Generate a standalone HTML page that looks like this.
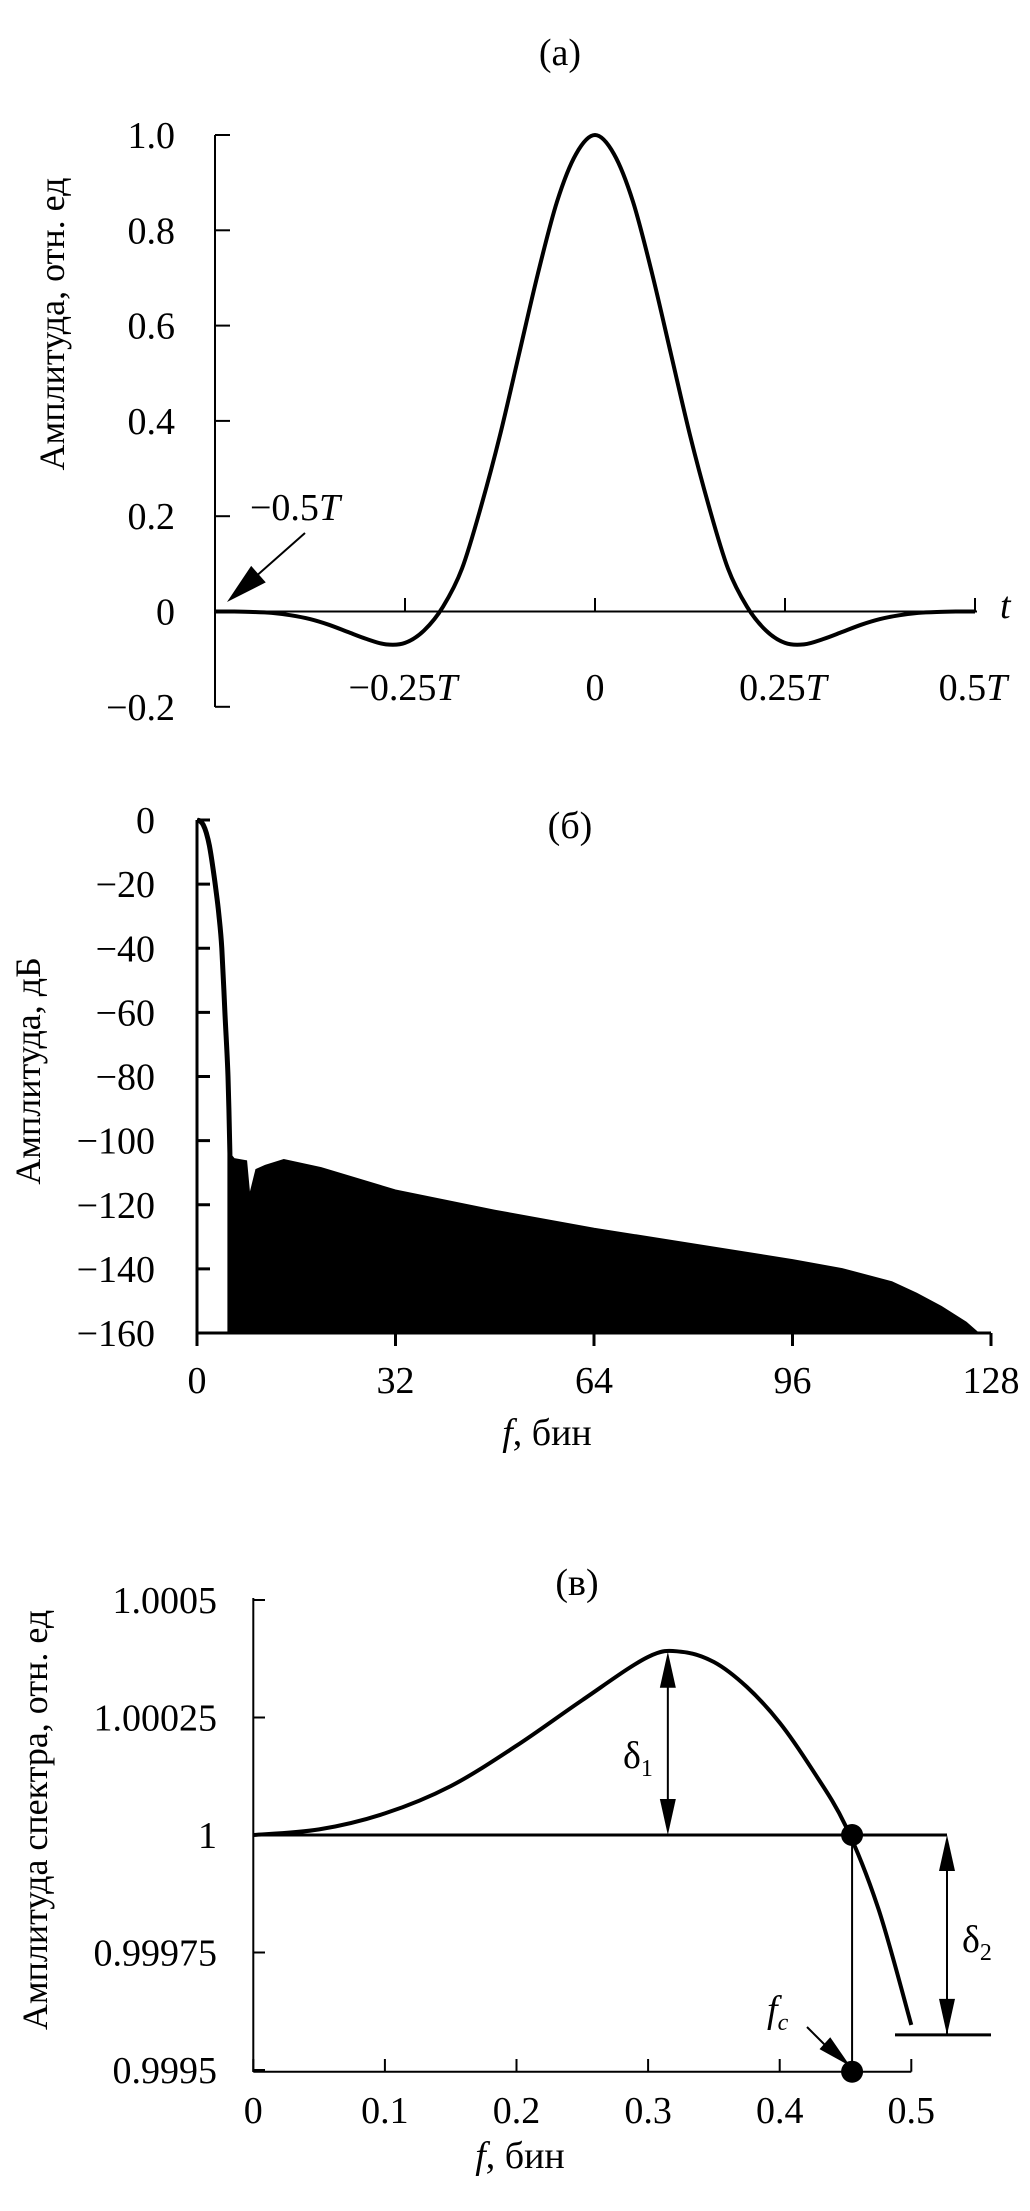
<!DOCTYPE html>
<html><head><meta charset="utf-8"><style>
html,body{margin:0;padding:0;background:#fff;}
svg{display:block;}
text{font-family:"Liberation Serif","DejaVu Serif",serif;fill:#000;}
</style></head><body>
<svg id="fig" width="1030" height="2211" viewBox="0 0 1030 2211" xmlns="http://www.w3.org/2000/svg">
<rect width="1030" height="2211" fill="#fff"/>
<!-- ===== Panel (a) ===== -->
<g id="pa" font-size="38">
  <text x="560" y="65" text-anchor="middle">(а)</text>
  <text transform="translate(64,324) rotate(-90)" text-anchor="middle" font-size="36">Амплитуда, отн. ед</text>
  <line x1="215" y1="135" x2="215" y2="707" stroke="#000" stroke-width="2"/>
  <line x1="215" y1="611.5" x2="977" y2="611.5" stroke="#000" stroke-width="2"/>
  <g id="pa-yt"></g>
  <g id="pa-xt"></g>
  <text x="1000" y="618" font-style="italic">t</text>
  <text x="250" y="520">−0.5<tspan font-style="italic">T</tspan></text>
  <g id="pa-arrow"></g>
  <path id="pa-curve" fill="none" stroke="#000" stroke-width="4"/>
</g>
<!-- ===== Panel (б) ===== -->
<g id="pb" font-size="38">
  <text x="570" y="838" text-anchor="middle">(б)</text>
  <text transform="translate(40,1071) rotate(-90)" text-anchor="middle" font-size="36">Амплитуда, дБ</text>
  <text x="547" y="1445" text-anchor="middle"><tspan font-style="italic">f</tspan>, бин</text>
  <path id="pb-fill" fill="#000" stroke="#000" stroke-width="1"/>
  <path id="pb-main" fill="none" stroke="#000" stroke-width="5"/>
  <line x1="197" y1="820" x2="197" y2="1333" stroke="#000" stroke-width="3"/>
  <line x1="197" y1="1333" x2="991" y2="1333" stroke="#000" stroke-width="3"/>
  <g id="pb-yt"></g>
  <g id="pb-xt"></g>
</g>
<!-- ===== Panel (в) ===== -->
<g id="pc" font-size="38">
  <text x="577" y="1595" text-anchor="middle">(в)</text>
  <text transform="translate(47,1820) rotate(-90)" text-anchor="middle" font-size="36">Амплитуда спектра, отн. ед</text>
  <text x="520" y="2168" text-anchor="middle"><tspan font-style="italic">f</tspan>, бин</text>
  <line x1="253.3" y1="1598" x2="253.3" y2="2072" stroke="#000" stroke-width="2"/>
  <line x1="253.3" y1="2071.7" x2="911.3" y2="2071.7" stroke="#000" stroke-width="2"/>
  <g id="pc-yt"></g>
  <g id="pc-xt"></g>
  <g id="pc-ann"></g>
  <path id="pc-curve" fill="none" stroke="#000" stroke-width="4"/>
  <text x="623" y="1768">δ<tspan font-size="24" dy="8">1</tspan></text>
  <text x="962" y="1952">δ<tspan font-size="24" dy="8">2</tspan></text>
  <text x="767" y="2022" font-style="italic">f<tspan font-size="24" dy="8">c</tspan></text>
</g>
</svg>
<script>
// ---- Panel (a) data ----
const aT = [-0.5,-0.475,-0.45,-0.425,-0.4,-0.375,-0.35,-0.325,-0.3,-0.275,-0.25,-0.225,-0.2,-0.175,-0.15,-0.125,-0.1,-0.075,-0.05,-0.025,0,0.025,0.05,0.075,0.1,0.125,0.15,0.175,0.2,0.225,0.25,0.275,0.3,0.325,0.35,0.375,0.4,0.425,0.45,0.475,0.5];
const aAmp = [0,0,-0.001,-0.003,-0.008,-0.016,-0.028,-0.043,-0.058,-0.069,-0.066,-0.04,0.01,0.09,0.22,0.37,0.54,0.71,0.86,0.96,1.0,0.96,0.86,0.71,0.54,0.37,0.22,0.09,0.01,-0.04,-0.066,-0.069,-0.058,-0.043,-0.028,-0.016,-0.008,-0.003,-0.001,0,0];
const aYTicks = [1.0,0.8,0.6,0.4,0.2,0,-0.2];
const aYTickLabels = ["1.0","0.8","0.6","0.4","0.2","0","−0.2"];
const aXTicks = [-0.25,0,0.25,0.5];
const aXTickLabels = ["−0.25","0","0.25","0.5"];
// ---- Panel (б) data ----
const bMainBins = [0,0.5,1,1.5,2,2.5,3,3.5,4,4.5,5,5.3];
const bMainDb = [0,-0.3,-1.5,-4,-8,-14,-21,-29,-40,-60,-80,-104];
const bEnvBins = [5.3,6,8,8.5,9.5,11,14,20,32,48,64,80,96,104,112,116,120,124,126];
const bEnvDb = [-104,-105.6,-106.3,-116.8,-109,-107.7,-105.9,-108.4,-115.4,-121.7,-127.3,-132.2,-137.1,-139.9,-144,-147.6,-151.7,-156.6,-160];
const bYTicks = [0,-20,-40,-60,-80,-100,-120,-140,-160];
const bYTickLabels = ["0","−20","−40","−60","−80","−100","−120","−140","−160"];
const bXTicks = [0,32,64,96,128];
const bXTickLabels = ["0","32","64","96","128"];
// ---- Panel (в) data ----
const cF = [0,0.05,0.1,0.15,0.2,0.25,0.3,0.325,0.35,0.375,0.4,0.425,0.45,0.475,0.5];
const cDev = [0,0.000012,0.000046,0.000104,0.00019,0.000287,0.000379,0.00039,0.000368,0.000315,0.000239,0.000138,0.00002,-0.000157,-0.000404];
const cYTicks = [1.0005,1.00025,1,0.99975,0.9995];
const cYTickLabels = ["1.0005","1.00025","1","0.99975","0.9995"];
const cXTicks = [0,0.1,0.2,0.3,0.4,0.5];
const cXTickLabels = ["0","0.1","0.2","0.3","0.4","0.5"];
const cFc = 0.455;
const cPeakF = 0.315;

const NS = "http://www.w3.org/2000/svg";
// axis functions
const axA = t => 595 + t*760;
const ayA = v => 611.5 - v*476.5;
const axB = b => 197 + b*(794/128);
const ayB = d => 820 - d*(513/160);
const axC = f => 253.3 + f*1316;
const ayC = v => 1835 - (v-1)*470000;

function mk(tag, attrs, parent){
  const el = document.createElementNS(NS, tag);
  for (const k in attrs) el.setAttribute(k, attrs[k]);
  parent.appendChild(el);
  return el;
}
function smooth(pts){
  let d = "M"+pts[0][0].toFixed(1)+","+pts[0][1].toFixed(1);
  for (let i=0;i<pts.length-1;i++){
    const p0=pts[Math.max(0,i-1)], p1=pts[i], p2=pts[i+1], p3=pts[Math.min(pts.length-1,i+2)];
    const c1=[p1[0]+(p2[0]-p0[0])/6, p1[1]+(p2[1]-p0[1])/6];
    const c2=[p2[0]-(p3[0]-p1[0])/6, p2[1]-(p3[1]-p1[1])/6];
    d+=" C"+c1[0].toFixed(1)+","+c1[1].toFixed(1)+" "+c2[0].toFixed(1)+","+c2[1].toFixed(1)+" "+p2[0].toFixed(1)+","+p2[1].toFixed(1);
  }
  return d;
}
function head(parent, x1,y1,x2,y2,len,hw){
  const dx=x2-x1, dy=y2-y1, L=Math.hypot(dx,dy), ux=dx/L, uy=dy/L;
  const bx=x2-ux*len, by=y2-uy*len;
  const p = mk("polygon",{points:`${x2},${y2} ${bx-uy*hw},${by+ux*hw} ${bx+uy*hw},${by-ux*hw}`, fill:"#000"}, parent);
  return p;
}

// ---- Panel (a) ----
(function(){
  const yt = document.getElementById("pa-yt");
  aYTicks.forEach((v,i)=>{
    const ln = mk("line",{x1:215,y1:ayA(v),x2:230,y2:ayA(v),stroke:"#000","stroke-width":2},yt);
    
    
    const tx = mk("text",{x:175,y:ayA(v)+13,"text-anchor":"end"},yt);
    tx.textContent = aYTickLabels[i];
    
    
  });
  const xt = document.getElementById("pa-xt");
  aXTicks.forEach((t,i)=>{
    const ln = mk("line",{x1:axA(t),y1:611.5,x2:axA(t),y2:598,stroke:"#000","stroke-width":2},xt);
    
    
    const tx = mk("text",{x:axA(t)-(t===0?0:2),y:700,"text-anchor":"middle"},xt);
    tx.textContent = aXTickLabels[i];
    if (t!==0){ const ts = mk("tspan",{"font-style":"italic"},tx); ts.textContent="T"; }
    
    
  });
  const pts = aT.map((t,i)=>[axA(t), ayA(aAmp[i])]);
  document.getElementById("pa-curve").setAttribute("d", smooth(pts));
  const ag = document.getElementById("pa-arrow");
  const l = mk("line",{x1:305,y1:533,x2:245,y2:586,stroke:"#000","stroke-width":2},ag);
  
  
  const h = head(ag,305,533,227,602,42,11);
  
  
})();

// ---- Panel (б) ----
(function(){
  let d = "M"+axB(bEnvBins[0]).toFixed(1)+","+ayB(-160).toFixed(1);
  bEnvBins.forEach((b,i)=>{ d += " L"+axB(b).toFixed(1)+","+ayB(bEnvDb[i]).toFixed(1); });
  d += " L"+axB(bEnvBins[bEnvBins.length-1]).toFixed(1)+","+ayB(-160).toFixed(1)+" Z";
  document.getElementById("pb-fill").setAttribute("d", d);
  const mp = bMainBins.map((b,i)=>[axB(b), ayB(bMainDb[i])]);
  document.getElementById("pb-main").setAttribute("d", smooth(mp)+" L"+axB(bMainBins[bMainBins.length-1]).toFixed(1)+","+ayB(-160));
  const yt = document.getElementById("pb-yt");
  bYTicks.forEach((v,i)=>{
    const ln = mk("line",{x1:197,y1:ayB(v),x2:210,y2:ayB(v),stroke:"#000","stroke-width":3},yt);
    
    
    const tx = mk("text",{x:155,y:ayB(v)+13,"text-anchor":"end"},yt);
    tx.textContent = bYTickLabels[i];
    
    
  });
  const xt = document.getElementById("pb-xt");
  bXTicks.forEach((b,i)=>{
    const ln = mk("line",{x1:axB(b),y1:1333,x2:axB(b),y2:1346,stroke:"#000","stroke-width":3},xt);
    
    
    const tx = mk("text",{x:axB(b),y:1393,"text-anchor":"middle"},xt);
    tx.textContent = bXTickLabels[i];
    
    
  });
})();

// ---- Panel (в) ----
(function(){
  const yt = document.getElementById("pc-yt");
  cYTicks.forEach((v,i)=>{
    const ln = mk("line",{x1:253.3,y1:ayC(v),x2:265,y2:ayC(v),stroke:"#000","stroke-width":2},yt);
    
    
    const tx = mk("text",{x:217,y:ayC(v)+13,"text-anchor":"end"},yt);
    tx.textContent = cYTickLabels[i];
    
    
  });
  const xt = document.getElementById("pc-xt");
  cXTicks.forEach((f,i)=>{
    const ln = mk("line",{x1:axC(f),y1:2071.7,x2:axC(f),y2:2059,stroke:"#000","stroke-width":2},xt);
    
    
    const tx = mk("text",{x:axC(f),y:2123,"text-anchor":"middle"},xt);
    tx.textContent = cXTickLabels[i];
    
    
  });
  const pts = cF.map((f,i)=>[axC(f), ayC(1+cDev[i])]);
  document.getElementById("pc-curve").setAttribute("d", smooth(pts));
  const ann = document.getElementById("pc-ann");
  const y1 = ayC(1), yEnd = ayC(1+cDev[cDev.length-1]);
  const peakV = Math.max.apply(null, cDev);
  const ref = mk("line",{x1:253.3,y1:y1,x2:947,y2:y1,stroke:"#000","stroke-width":3},ann);
  
  
  const xp = axC(cPeakF), yp = ayC(1+peakV);
  const d1 = mk("line",{x1:xp,y1:yp+30,x2:xp,y2:y1-30,stroke:"#000","stroke-width":2},ann);
  
  
  const h1 = head(ann,xp,y1,xp,yp,36,8);
  
  
  const h2 = head(ann,xp,yp,xp,y1,36,8);
  
  
  const xd2 = 947;
  const d2 = mk("line",{x1:xd2,y1:y1+30,x2:xd2,y2:yEnd+10,stroke:"#000","stroke-width":2},ann);
  
  
  const h3 = head(ann,xd2,yEnd+10,xd2,y1,36,8);
  
  
  const h4 = head(ann,xd2,y1,xd2,yEnd+10,36,8);
  
  
  const bl = mk("line",{x1:895,y1:yEnd+10,x2:991,y2:yEnd+10,stroke:"#000","stroke-width":3},ann);
  
  
  const xf = axC(cFc);
  const vl = mk("line",{x1:xf,y1:y1,x2:xf,y2:2071.7,stroke:"#000","stroke-width":2},ann);
  
  
  const c1 = mk("ellipse",{cx:xf,cy:y1,rx:11,ry:11,fill:"#000"},ann);
  
  
  const c2 = mk("ellipse",{cx:xf,cy:2071.7,rx:11,ry:11,fill:"#000"},ann);
  
  
  const fl = mk("line",{x1:807,y1:2027,x2:830,y2:2050,stroke:"#000","stroke-width":2},ann);
  
  
  const fh = head(ann,807,2027,xf-2,2066,34,8);
  
  
})();
</script>
</body></html>
